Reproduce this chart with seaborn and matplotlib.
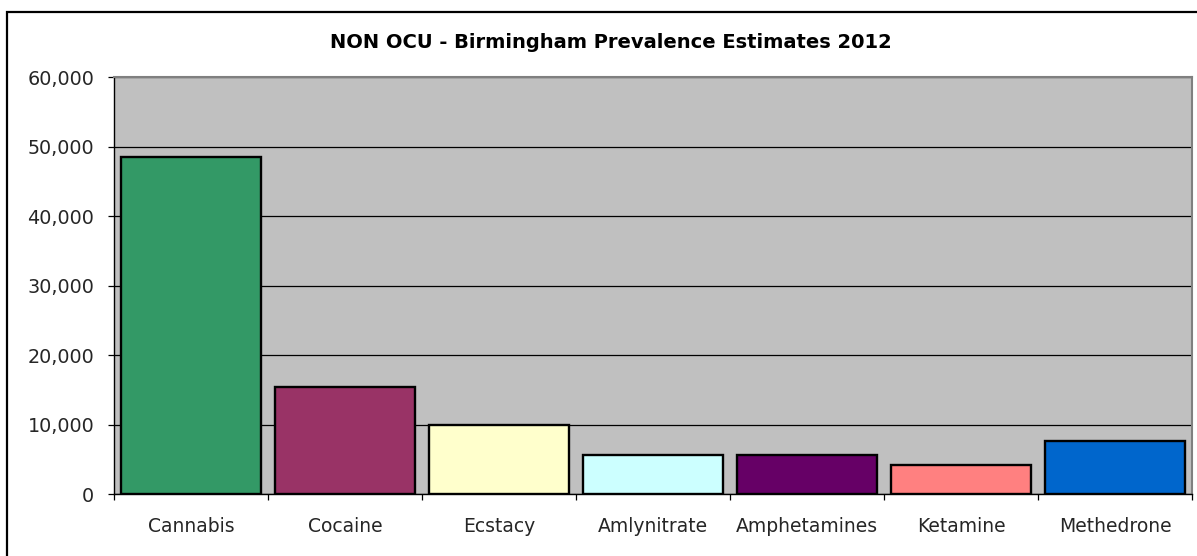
import matplotlib
matplotlib.use("Agg")
import matplotlib.pyplot as plt
import matplotlib.patches as mpatches
from matplotlib.ticker import FuncFormatter, FixedLocator
import seaborn as sns
import pandas as pd

# Estimated prevalence per substance
substances = ["Cannabis", "Cocaine", "Ecstacy", "Amlynitrate", "Amphetamines", "Ketamine", "Methedrone"]
estimates = [48550, 15370, 9950, 5680, 5680, 4220, 7670]
bar_colors = ["#339966", "#993366", "#FFFFCC", "#CCFFFF", "#660066", "#FF8080", "#0066CC"]
y_ticks = [0, 10000, 20000, 30000, 40000, 50000, 60000]
title = "NON OCU - Birmingham Prevalence Estimates 2012"

sns.set_theme(style="white")
plt.rcParams["font.family"] = ["DejaVu Sans"]

W, H = 1197, 556
fig = plt.figure(figsize=(W / 100, H / 100), dpi=100)
fig.patch.set_facecolor("white")

# chart-area frame (runs past the right and bottom edges)
frame = mpatches.Rectangle((7 / W, -0.5), 1.5, 1.5 - 12 / H, transform=fig.transFigure,
                           fill=False, edgecolor="black", linewidth=1.6, clip_on=False)
fig.patches.append(frame)

ax = fig.add_axes([114.3 / W, (H - 494.3) / H, (1192 - 114.3) / W, (494.3 - 77.3) / H])
ax.set_facecolor("#C0C0C0")

df = pd.DataFrame({"substance": substances, "estimate": estimates})
sns.barplot(data=df, x="substance", y="estimate", hue="substance",
            palette=bar_colors, legend=False, width=1 / 1.1,
            edgecolor="black", linewidth=1.7, saturation=1, ax=ax, zorder=3)

ax.set_xlim(-0.5, len(substances) - 0.5)
ax.set_ylim(0, 60000)
ax.yaxis.set_major_locator(FixedLocator(y_ticks))
ax.yaxis.set_major_formatter(FuncFormatter(lambda v, p: f"{int(v):,}"))
ax.grid(axis="y", color="black", linewidth=0.9, zorder=1)
ax.set_axisbelow(True)

# category-boundary ticks on x, labels centred beneath each bar
ax.set_xticks([i - 0.5 for i in range(len(substances) + 1)])
ax.set_xticklabels([])
ax.set_xticks(range(len(substances)), minor=True)
ax.set_xticklabels(substances, minor=True)
ax.tick_params(axis="x", which="major", direction="out", length=4.5, width=0.9, color="black", bottom=True)
ax.tick_params(axis="x", which="minor", length=0, pad=16, labelsize=13.5)
ax.tick_params(axis="y", direction="out", length=4.5, width=0.9, color="black", pad=10, labelsize=13.8, left=True)

ax.set_xlabel("")
ax.set_ylabel("")
for side in ["left", "bottom"]:
    ax.spines[side].set_color("black")
    ax.spines[side].set_linewidth(1.0)
for side in ["top", "right"]:
    ax.spines[side].set_visible(True)
    ax.spines[side].set_color("#808080")
    ax.spines[side].set_linewidth(1.5)

fig.text(611 / W, 1 - 43 / H, title, ha="center", va="center",
         fontsize=14, fontweight="bold", color="black")

fig.savefig("out.png", dpi=100)
